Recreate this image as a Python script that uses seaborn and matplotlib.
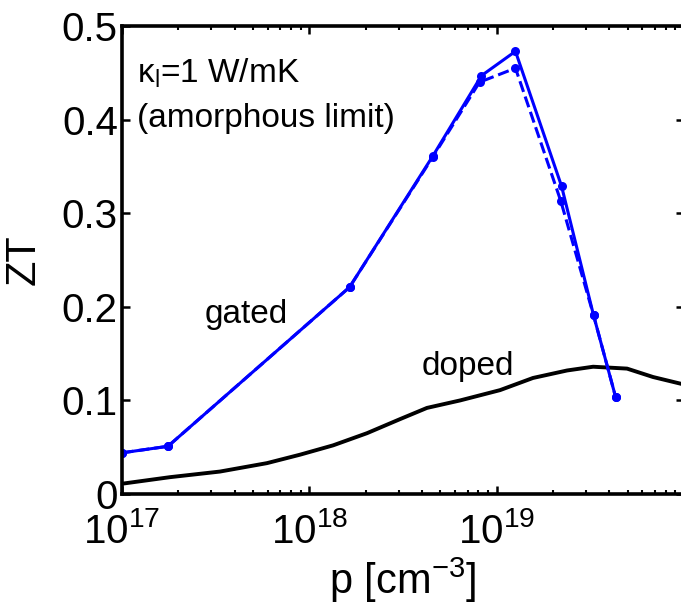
import numpy as np
import seaborn as sns
import matplotlib.pyplot as plt

# gated, solid line
gated_p = [1.0e17, 1.76e17, 1.64e18, 4.56e18, 8.3e18, 1.26e19, 2.22e19, 3.29e19, 4.31e19]
gated_zt = [0.044, 0.051, 0.221, 0.361, 0.447, 0.473, 0.329, 0.191, 0.104]

# gated, dashed line
gated2_p = [1.0e17, 1.76e17, 1.64e18, 4.56e18, 8.1e18, 1.26e19, 2.2e19, 3.29e19, 4.31e19]
gated2_zt = [0.044, 0.051, 0.221, 0.360, 0.440, 0.455, 0.313, 0.191, 0.104]

# doped curve (log10 of p)
doped_logp = [17.0, 17.256, 17.523, 17.774, 17.950, 18.127, 18.308, 18.484, 18.628,
              18.805, 19.018, 19.194, 19.376, 19.515, 19.696, 19.835, 20.0]
doped_zt = [0.011, 0.018, 0.024, 0.033, 0.042, 0.052, 0.065, 0.080, 0.092,
            0.100, 0.111, 0.124, 0.132, 0.136, 0.134, 0.125, 0.117]

sns.set_style('ticks', {'axes.edgecolor': 'black', 'text.color': 'black',
                        'axes.labelcolor': 'black', 'xtick.color': 'black',
                        'ytick.color': 'black'})
plt.rcParams['font.family'] = ['Liberation Sans', 'DejaVu Sans']
plt.rcParams['mathtext.fontset'] = 'custom'
plt.rcParams['mathtext.rm'] = 'Liberation Sans'
plt.rcParams['xtick.direction'] = 'in'
plt.rcParams['ytick.direction'] = 'in'

fig = plt.figure(figsize=(6.81, 6.14), dpi=100)
ax = fig.add_axes([0.1791, 0.1954, 0.8253, 0.7622])

sns.lineplot(x=np.power(10, doped_logp), y=doped_zt, color='black', lw=2.8, sort=False, ax=ax)
sns.lineplot(x=gated2_p, y=gated2_zt, color='#0000ff', lw=2.2, ls='--', marker='o',
             markersize=6.5, markeredgewidth=0, sort=False, ax=ax)
sns.lineplot(x=gated_p, y=gated_zt, color='#0000ff', lw=2.2, marker='o',
             markersize=6.5, markeredgewidth=0, sort=False, ax=ax)

ax.set_xscale('log')
ax.set_xlim(1e17, 1e20)
ax.set_ylim(0, 0.5)
ax.set_yticks([0, 0.1, 0.2, 0.3, 0.4, 0.5])
ax.set_yticklabels(['0', '0.1', '0.2', '0.3', '0.4', '0.5'])
ax.set_xticks([1e17, 1e18, 1e19])
ax.set_xticklabels([r'$\mathdefault{10^{17}}$', r'$\mathdefault{10^{18}}$', r'$\mathdefault{10^{19}}$'])
ax.tick_params(axis='both', which='major', labelsize=29, length=6, width=1.8,
               top=True, right=True)
ax.tick_params(axis='y', pad=3)
ax.tick_params(axis='x', pad=13)
ax.tick_params(axis='x', which='minor', length=3, width=1.5, top=True)
for s in ['left', 'bottom', 'top']:
    ax.spines[s].set_linewidth(2.6)
ax.spines['right'].set_visible(False)

ax.set_xlabel(r'p [cm$^{\mathdefault{-3}}$]', fontsize=30, labelpad=3)
ax.set_ylabel('ZT', fontsize=30)
ax.yaxis.set_label_coords(-0.14, 0.5)

ax.text(0.027, 0.880, r'κ$_{\mathdefault{l}}$=1 W/mK', transform=ax.transAxes, fontsize=24, va='baseline')
ax.text(0.027, 0.784, '(amorphous limit)', transform=ax.transAxes, fontsize=24, va='baseline')
ax.text(2.77e17, 0.183, 'gated', fontsize=24, va='baseline')
ax.text(4.0e18, 0.127, 'doped', fontsize=24, va='baseline')

fig.savefig('out.png', dpi=100)
